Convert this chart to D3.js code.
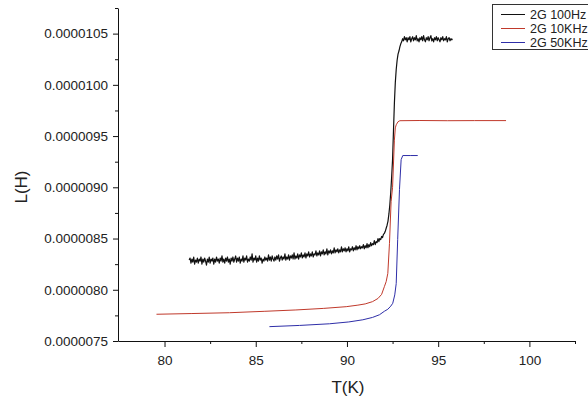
<!DOCTYPE html>
<html>
<head>
<meta charset="utf-8">
<script src="https://cdn.jsdelivr.net/npm/d3@7/dist/d3.min.js"></script>
<style>
  html, body { margin: 0; padding: 0; background: #fff; }
  svg { display: block; font-family: "Liberation Sans", Arial, sans-serif; }
</style>
</head>
<body>
<svg id="chart" width="588" height="402"></svg>
<script>
// ---------- DATA ----------
const seriesNames = ["2G 100Hz", "2G 10KHz", "2G 50KHz"];
const seriesColors = ["#111111", "#c0392b", "#2e2ea8"];

const xMajorTicks = [80, 85, 90, 95, 100];
const xMinorTicks = [82.5, 87.5, 92.5, 97.5, 102.5];
const yMajorTicks = [7.5e-6, 8.0e-6, 8.5e-6, 9.0e-6, 9.5e-6, 1.0e-5, 1.05e-5];
const yMinorTicks = [7.75e-6, 8.25e-6, 8.75e-6, 9.25e-6, 9.75e-6, 1.025e-5, 1.075e-5];

// 2G 100Hz  [T (K), L (H)]  (noisy trace)
const black100Hz = [
  [81.35,8.29e-6],[81.40,8.31e-6],[81.45,8.26e-6],[81.50,8.30e-6],[81.55,8.27e-6],[81.60,8.32e-6],
  [81.65,8.25e-6],[81.70,8.29e-6],[81.75,8.27e-6],[81.80,8.31e-6],[81.85,8.26e-6],[81.90,8.30e-6],
  [81.95,8.28e-6],[82.00,8.32e-6],[82.05,8.25e-6],[82.10,8.30e-6],[82.15,8.27e-6],[82.20,8.31e-6],
  [82.25,8.28e-6],[82.30,8.24e-6],[82.35,8.30e-6],[82.40,8.27e-6],[82.45,8.32e-6],[82.50,8.26e-6],
  [82.55,8.30e-6],[82.60,8.28e-6],[82.65,8.31e-6],[82.70,8.25e-6],[82.75,8.30e-6],[82.80,8.27e-6],
  [82.85,8.32e-6],[82.90,8.28e-6],[82.95,8.30e-6],[83.00,8.26e-6],[83.05,8.31e-6],[83.10,8.28e-6],
  [83.15,8.33e-6],[83.20,8.27e-6],[83.25,8.30e-6],[83.30,8.26e-6],[83.35,8.31e-6],[83.40,8.28e-6],
  [83.45,8.32e-6],[83.50,8.27e-6],[83.55,8.30e-6],[83.60,8.25e-6],[83.65,8.31e-6],[83.70,8.28e-6],
  [83.75,8.32e-6],[83.80,8.27e-6],[83.85,8.30e-6],[83.90,8.33e-6],[83.95,8.27e-6],[84.00,8.31e-6],
  [84.05,8.28e-6],[84.10,8.32e-6],[84.15,8.26e-6],[84.20,8.30e-6],[84.25,8.28e-6],[84.30,8.33e-6],
  [84.35,8.27e-6],[84.40,8.31e-6],[84.45,8.29e-6],[84.50,8.33e-6],[84.55,8.27e-6],[84.60,8.30e-6],
  [84.65,8.28e-6],[84.70,8.32e-6],[84.75,8.29e-6],[84.80,8.35e-6],[84.85,8.27e-6],[84.90,8.31e-6],
  [84.95,8.29e-6],[85.00,8.33e-6],[85.05,8.27e-6],[85.10,8.31e-6],[85.15,8.28e-6],[85.20,8.33e-6],
  [85.25,8.29e-6],[85.30,8.31e-6],[85.35,8.26e-6],[85.40,8.30e-6],[85.45,8.28e-6],[85.50,8.32e-6],
  [85.55,8.29e-6],[85.60,8.31e-6],[85.65,8.28e-6],[85.70,8.34e-6],[85.75,8.29e-6],[85.80,8.32e-6],
  [85.85,8.28e-6],[85.90,8.33e-6],[85.95,8.30e-6],[86.00,8.28e-6],[86.05,8.32e-6],[86.10,8.29e-6],
  [86.15,8.33e-6],[86.20,8.30e-6],[86.25,8.34e-6],[86.30,8.28e-6],[86.35,8.31e-6],[86.40,8.33e-6],
  [86.45,8.29e-6],[86.50,8.32e-6],[86.55,8.30e-6],[86.60,8.35e-6],[86.65,8.29e-6],[86.70,8.32e-6],
  [86.75,8.30e-6],[86.80,8.34e-6],[86.85,8.29e-6],[86.90,8.33e-6],[86.95,8.31e-6],[87.00,8.34e-6],
  [87.05,8.30e-6],[87.10,8.36e-6],[87.15,8.30e-6],[87.20,8.33e-6],[87.25,8.31e-6],[87.30,8.35e-6],
  [87.35,8.30e-6],[87.40,8.34e-6],[87.45,8.32e-6],[87.50,8.36e-6],[87.55,8.31e-6],[87.60,8.34e-6],
  [87.65,8.32e-6],[87.70,8.36e-6],[87.75,8.31e-6],[87.80,8.35e-6],[87.85,8.33e-6],[87.90,8.37e-6],
  [87.95,8.32e-6],[88.00,8.35e-6],[88.05,8.33e-6],[88.10,8.37e-6],[88.15,8.32e-6],[88.20,8.35e-6],
  [88.25,8.34e-6],[88.30,8.38e-6],[88.35,8.33e-6],[88.40,8.36e-6],[88.45,8.34e-6],[88.50,8.38e-6],
  [88.55,8.33e-6],[88.60,8.37e-6],[88.65,8.35e-6],[88.70,8.39e-6],[88.75,8.34e-6],[88.80,8.37e-6],
  [88.85,8.35e-6],[88.90,8.40e-6],[88.95,8.34e-6],[89.00,8.38e-6],[89.05,8.36e-6],[89.10,8.39e-6],
  [89.15,8.35e-6],[89.20,8.38e-6],[89.25,8.36e-6],[89.30,8.41e-6],[89.35,8.36e-6],[89.40,8.39e-6],
  [89.45,8.37e-6],[89.50,8.40e-6],[89.55,8.36e-6],[89.60,8.39e-6],[89.65,8.37e-6],[89.70,8.42e-6],
  [89.75,8.37e-6],[89.80,8.40e-6],[89.85,8.38e-6],[89.90,8.41e-6],[89.95,8.37e-6],[90.00,8.40e-6],
  [90.05,8.38e-6],[90.10,8.42e-6],[90.15,8.37e-6],[90.20,8.40e-6],[90.25,8.39e-6],[90.30,8.42e-6],
  [90.35,8.38e-6],[90.40,8.41e-6],[90.45,8.39e-6],[90.50,8.43e-6],[90.55,8.39e-6],[90.60,8.42e-6],
  [90.65,8.40e-6],[90.70,8.43e-6],[90.75,8.40e-6],[90.80,8.42e-6],[90.85,8.41e-6],[90.90,8.44e-6],
  [90.95,8.40e-6],[91.00,8.43e-6],[91.05,8.41e-6],[91.10,8.45e-6],[91.15,8.41e-6],[91.20,8.44e-6],
  [91.25,8.42e-6],[91.30,8.46e-6],[91.35,8.43e-6],[91.40,8.45e-6],[91.45,8.44e-6],[91.50,8.48e-6],
  [91.55,8.44e-6],[91.60,8.47e-6],[91.65,8.46e-6],[91.70,8.50e-6],[91.75,8.47e-6],[91.80,8.50e-6],
  [91.85,8.49e-6],[91.90,8.52e-6],[91.95,8.51e-6],[92.00,8.54e-6],[92.05,8.55e-6],[92.10,8.57e-6],
  [92.15,8.60e-6],[92.20,8.63e-6],[92.25,8.67e-6],[92.30,8.74e-6],[92.35,8.83e-6],[92.40,8.95e-6],
  [92.45,9.10e-6],[92.50,9.27e-6],[92.55,9.55e-6],[92.60,9.82e-6],[92.65,1.002e-5],[92.70,1.015e-5],
  [92.75,1.024e-5],[92.80,1.030e-5],[92.85,1.033e-5],[92.90,1.037e-5],[92.95,1.040e-5],
  [93.00,1.042e-5],[93.05,1.045e-5],[93.10,1.043e-5],[93.15,1.047e-5],[93.20,1.044e-5],[93.25,1.046e-5],
  [93.30,1.042e-5],[93.35,1.046e-5],[93.40,1.044e-5],[93.45,1.047e-5],[93.50,1.042e-5],[93.55,1.045e-5],
  [93.60,1.047e-5],[93.65,1.043e-5],[93.70,1.046e-5],[93.75,1.044e-5],[93.80,1.048e-5],[93.85,1.043e-5],
  [93.90,1.045e-5],[93.95,1.042e-5],[94.00,1.046e-5],[94.05,1.044e-5],[94.10,1.047e-5],[94.15,1.043e-5],
  [94.20,1.048e-5],[94.25,1.044e-5],[94.30,1.042e-5],[94.35,1.046e-5],[94.40,1.044e-5],[94.45,1.047e-5],
  [94.50,1.043e-5],[94.55,1.046e-5],[94.60,1.048e-5],[94.65,1.043e-5],[94.70,1.045e-5],[94.75,1.042e-5],
  [94.80,1.046e-5],[94.85,1.044e-5],[94.90,1.047e-5],[94.95,1.043e-5],[95.00,1.046e-5],[95.05,1.044e-5],
  [95.10,1.042e-5],[95.15,1.046e-5],[95.20,1.044e-5],[95.25,1.047e-5],[95.30,1.043e-5],[95.35,1.045e-5],
  [95.40,1.044e-5],[95.45,1.047e-5],[95.50,1.042e-5],[95.55,1.045e-5],[95.60,1.046e-5],[95.65,1.043e-5],
  [95.70,1.045e-5],[95.75,1.044e-5],[95.78,1.045e-5]
];

// 2G 10KHz
const red10KHz = [
  [79.56,7.761e-6],[81.5,7.768e-6],[83.56,7.776e-6],[85.5,7.790e-6],[87.2,7.803e-6],
  [88.7,7.818e-6],[89.96,7.835e-6],[90.6,7.850e-6],[91.0,7.862e-6],[91.4,7.884e-6],
  [91.7,7.915e-6],[91.9,7.955e-6],[92.05,8.03e-6],[92.15,8.08e-6],[92.24,8.16e-6],
  [92.33,8.45e-6],[92.42,8.86e-6],[92.5,9.00e-6],[92.6,9.46e-6],[92.65,9.58e-6],
  [92.7,9.61e-6],[92.8,9.64e-6],[92.9,9.65e-6],[94.0,9.652e-6],[95.5,9.650e-6],
  [97.0,9.651e-6],[98.72,9.651e-6]
];

// 2G 50KHz
const blue50KHz = [
  [85.75,7.640e-6],[87.4,7.652e-6],[89.04,7.668e-6],[90.1,7.686e-6],[90.87,7.707e-6],
  [91.4,7.730e-6],[91.78,7.756e-6],[92.05,7.790e-6],[92.24,7.810e-6],[92.4,7.840e-6],
  [92.51,7.868e-6],[92.62,7.95e-6],[92.7,8.06e-6],[92.78,8.49e-6],[92.88,8.98e-6],
  [92.97,9.27e-6],[93.06,9.31e-6],[93.5,9.31e-6],[93.88,9.31e-6]
];

const allSeries = [black100Hz, red10KHz, blue50KHz];

// ---------- CHART ----------
const svg = d3.select("#chart");
const x = d3.scaleLinear().domain([77.45, 102.5]).range([118, 575]);
const y = d3.scaleLinear().domain([7.5e-6, 1.075e-5]).range([341, 8]);

const fmtY = d3.format(".7f");

// minor ticks
svg.append("g").attr("transform", "translate(0,341)")
  .call(d3.axisBottom(x).tickValues(xMinorTicks).tickSize(3).tickSizeOuter(0).tickFormat(""))
  .call(g => g.select(".domain").remove());
svg.append("g").attr("transform", "translate(118,0)")
  .call(d3.axisLeft(y).tickValues(yMinorTicks).tickSize(3).tickSizeOuter(0).tickFormat(""))
  .call(g => g.select(".domain").remove());

// major axes
svg.append("g").attr("transform", "translate(0,341)")
  .call(d3.axisBottom(x).tickValues(xMajorTicks).tickSize(6).tickSizeOuter(0).tickPadding(8));
svg.append("g").attr("transform", "translate(118,0)")
  .call(d3.axisLeft(y).tickValues(yMajorTicks).tickSize(5).tickSizeOuter(0).tickPadding(5).tickFormat(fmtY));

svg.selectAll(".tick text").attr("font-size", 13.5).attr("fill", "#222")
  .attr("font-family", "'Liberation Sans', Arial, sans-serif");
svg.selectAll(".domain, .tick line").attr("stroke", "#111");

// axis titles
svg.append("text").attr("x", 348).attr("y", 393).attr("text-anchor", "middle")
  .attr("font-size", 17).attr("fill", "#222").text("T(K)");
svg.append("text").attr("transform", "translate(27,187) rotate(-90)")
  .attr("text-anchor", "middle").attr("font-size", 17).attr("fill", "#222").text("L(H)");

// lines
const line = d3.line().x(d => x(d[0])).y(d => y(d[1]));
allSeries.forEach((s, i) => {
  svg.append("path").datum(s).attr("d", line)
    .attr("fill", "none").attr("stroke", seriesColors[i])
    .attr("stroke-width", i === 0 ? 1.2 : 1).attr("stroke-linejoin", "round");
});

// legend
const lg = svg.append("g");
lg.append("rect").attr("x", 492.5).attr("y", 4.5).attr("width", 110).attr("height", 45)
  .attr("fill", "#fff").attr("stroke", "#333").attr("stroke-width", 1);
seriesNames.forEach((n, i) => {
  const cy = 14.5 + i * 14;
  lg.append("line").attr("x1", 501).attr("x2", 525).attr("y1", cy).attr("y2", cy)
    .attr("stroke", seriesColors[i]).attr("stroke-width", 1);
  lg.append("text").attr("x", 530).attr("y", cy + 4.3).attr("font-size", 12.5)
    .attr("fill", "#222").text(n);
});
</script>
</body>
</html>
